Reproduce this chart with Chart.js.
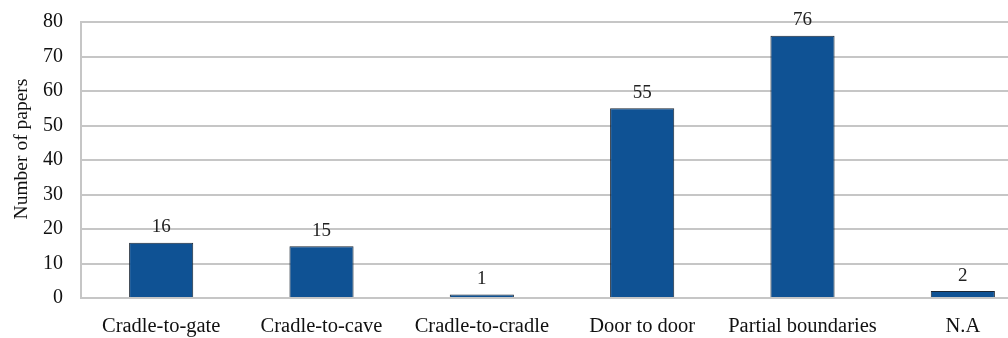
<!DOCTYPE html>
<html>
<head>
<meta charset="utf-8">
<script src="https://cdn.jsdelivr.net/npm/chart.js@4.4.1/dist/chart.umd.min.js"></script>
<style>
  html, body { margin: 0; padding: 0; background: #fff; overflow: hidden; }
  #wrap { position: relative; width: 1044px; height: 338px; }
</style>
</head>
<body>
<div id="wrap"><canvas id="c"></canvas></div>
<script>
const categories = ["Cradle-to-gate", "Cradle-to-cave", "Cradle-to-cradle", "Door to door", "Partial boundaries", "N.A"];
const paperCounts = [16, 15, 1, 55, 76, 2];
const yTicks = [0, 10, 20, 30, 40, 50, 60, 70, 80];
const yTitle = "Number of papers";

const FONT = "'Liberation Serif', 'DejaVu Serif', serif";
const GRID = "#c6c6c6";

// Writes each bar's value just above it
const valueLabels = {
  id: "valueLabels",
  afterDatasetsDraw(chart) {
    const ctx = chart.ctx;
    const meta = chart.getDatasetMeta(0);
    ctx.save();
    ctx.font = "19px " + FONT;
    ctx.fillStyle = "#222";
    ctx.textAlign = "center";
    ctx.textBaseline = "bottom";
    meta.data.forEach((bar, i) => {
      ctx.fillText(String(paperCounts[i]), bar.x, bar.y - 6);
    });
    ctx.restore();
  }
};

// Rotated y-axis caption, sitting a little above the axis midpoint
const yCaption = {
  id: "yCaption",
  afterDraw(chart) {
    const ctx = chart.ctx;
    const area = chart.chartArea;
    ctx.save();
    ctx.translate(22, (area.top + area.bottom) / 2 - 11);
    ctx.rotate(-Math.PI / 2);
    ctx.font = "19.5px " + FONT;
    ctx.fillStyle = "#111";
    ctx.textAlign = "center";
    ctx.textBaseline = "middle";
    ctx.fillText(yTitle, 0, 0);
    ctx.restore();
  }
};

new Chart(document.getElementById("c"), {
  type: "bar",
  data: {
    labels: categories,
    datasets: [{
      data: paperCounts,
      backgroundColor: "#0f5294",
      borderColor: "#1b2633",
      borderWidth: 1,
      barPercentage: 0.4,
      categoryPercentage: 1.0
    }]
  },
  options: {
    responsive: true,
    maintainAspectRatio: false,
    animation: false,
    layout: { padding: { top: 22, right: 1, left: 0, bottom: 0 } },
    plugins: { legend: { display: false }, tooltip: { enabled: false } },
    scales: {
      x: {
        grid: { display: false, drawTicks: false },
        border: { display: true, color: GRID, width: 2 },
        ticks: { color: "#111", font: { family: FONT, size: 20.5 }, padding: 16, maxRotation: 0 },
        afterFit(scale) { scale.height = 40; }
      },
      y: {
        min: 0, max: 80,
        afterBuildTicks(scale) { scale.ticks = yTicks.map(v => ({ value: v })); },
        grid: { color: GRID, lineWidth: 2, drawTicks: false },
        border: { display: true, color: GRID, width: 2 },
        ticks: { color: "#111", font: { family: FONT, size: 20 }, padding: 18 },
        afterFit(scale) {
          scale.width = 81;
          scale.paddingTop = 0;
          scale.paddingBottom = 0;
        }
      }
    }
  },
  plugins: [valueLabels, yCaption]
});
</script>
</body>
</html>
